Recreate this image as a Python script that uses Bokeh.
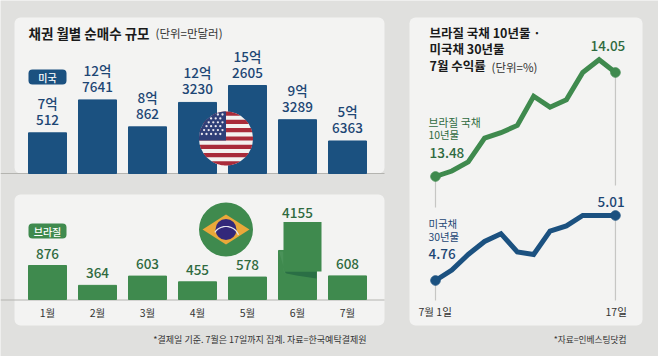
import numpy as np
from bokeh.plotting import figure
from bokeh.models import Range1d, BoxAnnotation
from bokeh.core.properties import value
from bokeh.embed import file_html
from bokeh.resources import INLINE

months = ["1월", "2월", "3월", "4월", "5월", "6월", "7월"]
us_values = [70512, 127641, 80862, 123230, 152605, 93289, 56363]
us_top = ["7억", "12억", "8억", "12억", "15억", "9억", "5억"]
us_bottom = ["512", "7641", "862", "3230", "2605", "3289", "6363"]
br_values = [876, 364, 603, 455, 578, 1263, 608]
br_labels = ["876", "364", "603", "455", "578", "4155", "608"]
br_yield = [13.48, 13.51, 13.56, 13.69, 13.72, 13.76, 13.92, 13.86, 13.90, 14.05, 14.12, 14.05]
us_yield = [4.76, 4.80, 4.86, 4.91, 4.94, 4.87, 4.86, 4.95, 4.97, 5.01, 5.01, 5.01]

BG = "#e0e0de"; PANEL = "#f3f3f2"; NAVY = "#1b5180"; NAVYT = "#1d4674"
GREEN = "#3f8a4e"; GREENT = "#2f6a40"; INK = "#1a1a1a"; RULE = "#b4b4b0"
F = "Noto Sans CJK KR"
FM = "Noto Sans CJK KR Medium"
W, H = 658, 356

p = figure(width=W, height=H, output_backend="svg", toolbar_location=None,
           x_range=Range1d(0, W), y_range=Range1d(H, 0),
           min_border=0, background_fill_color=BG, border_fill_color=BG,
           outline_line_color=None)
p.xaxis.visible = False
p.yaxis.visible = False
p.xgrid.visible = False
p.ygrid.visible = False

def scale(name, base_px, per_unit, base_val=0.0):
    p.extra_y_ranges[name] = Range1d(base_val - (H - base_px) / per_unit,
                                     base_val + base_px / per_unit)

scale("us", 173, 88 / 152605)
scale("br", 299, 34 / 876)
scale("by", 176, 104 / 0.57, 13.48)
scale("uy", 280, 65 / 0.25, 4.76)
p.extra_x_ranges["month"] = Range1d(-47 / 50, (W - 47) / 50)
p.extra_x_ranges["day"] = Range1d(-435 / 16.36, (W - 435) / 16.36)

for l, r, t, b, radius in [(14, 384, 17, 173, 6), (14, 384, 194, 325, 6), (409, 642, 17, 325, 6)]:
    p.add_layout(BoxAnnotation(left=l, right=r, top=t, bottom=b, fill_color=PANEL, fill_alpha=1,
                               line_color=None, border_radius=radius, level="underlay"))

xs = np.arange(7)

p.line([0, 384], [173, 173], line_color=RULE, line_width=1)
p.line([0, 384], [299.5, 299.5], line_color=RULE, line_width=1)

p.vbar(x=xs, top=us_values, bottom=0, width=38 / 50, color=NAVY, x_range_name="month", y_range_name="us")
p.vbar(x=xs, top=br_values, bottom=0, width=38 / 50, color=GREEN, x_range_name="month", y_range_name="br")

p.patch([283, 316, 316, 296, 286], [271, 271, 278, 275, 273], color="#2a6f45", line_color=None)
p.patch([278.5, 283, 283, 285], [251, 251, 271, 273], color="#4a9259", line_color=None)
p.quad(left=[283], right=[321], top=[221.5], bottom=[271], color=GREEN, line_color=None)

def text(x, y, t, size, color, font=F, bold=False, align="center", **kw):
    p.text(x=x, y=y, text=t, text_font=value(font), text_font_size=f"{size}px",
           text_color=color, text_align=align, text_baseline="middle",
           text_font_style="bold" if bold else "normal", **kw)

text(xs, np.array(us_values), us_bottom, 13.5, NAVYT, FM, y_offset=-13,
     x_range_name="month", y_range_name="us")
text(xs, np.array(us_values), us_top, 13.5, NAVYT, FM, y_offset=-30,
     x_range_name="month", y_range_name="us")
br_tops = list(br_values)
br_tops[5] = 1263 + 25.5 / (34 / 876)
text(xs, br_tops, br_labels, 13.5, GREENT, FM, y_offset=-12,
     x_range_name="month", y_range_name="br")
text(xs, [311.5] * 7, months, 10.5, "#333333", x_range_name="month")

for top, fill, lab in [(69, NAVY, "미국"), (223, GREEN, "브라질")]:
    p.add_layout(BoxAnnotation(left=28, right=66, top=top, bottom=top + 15, fill_color=fill, fill_alpha=1,
                               line_color=None, border_radius=4, level="underlay"))
    text([47], [top + 7.5], [lab], 10, "#ffffff", FM)

text([28], [32], ["채권 월별 순매수 규모"], 13.5, INK, bold=True, align="left")
text([155], [32], ["(단위=만달러)"], 11.5, "#333333", align="left")
text([429], [32], ["브라질 국채 10년물 ·"], 12.5, INK, bold=True, align="left")
text([429], [48], ["미국채 30년물"], 12.5, INK, bold=True, align="left")
text([429], [65], ["7월 수익률"], 12.5, INK, bold=True, align="left")
text([491], [66], ["(단위=%)"], 11.5, "#333333", align="left")

cx, cy, R = 225.5, 138, 27
def chord(y0, y1):
    a0 = np.arcsin(np.clip((y0 - cy) / R, -1, 1))
    a1 = np.arcsin(np.clip((y1 - cy) / R, -1, 1))
    a = np.linspace(a0, a1, 12)
    return (list(cx + R * np.cos(a)) + list(cx - R * np.cos(a[::-1])),
            list(cy + R * np.sin(a)) + list(cy + R * np.sin(a[::-1])))

p.scatter([cx], [cy], size=2 * R, color="#f4f2f0", line_color=None)
h = 2 * R / 13
for i in range(0, 13, 2):
    px, py = chord(cy - R + i * h, cy - R + (i + 1) * h)
    p.patch(px, py, color="#a92b3a", line_color=None)
a = np.linspace(np.arcsin(-1), np.arcsin((7 * h - R) / R), 20)
cxs = list(cx - R * np.cos(a)) + [cx, cx]
cys = list(cy + R * np.sin(a)) + [cy - R + 7 * h, cy - R]
p.patch(cxs, cys, color="#2f3f78", line_color=None)
sx, sy = [], []
for r in range(6):
    for c in range(6):
        x_ = cx - 3.5 - c * 4.6 - (r % 2) * 2.2
        y_ = cy - R + 3 + r * 3.9
        if (x_ - cx) ** 2 + (y_ - cy) ** 2 < (R - 1.5) ** 2:
            sx.append(x_); sy.append(y_)
p.scatter(sx, sy, size=2.3, color="#e9e7ee", line_color=None)

bx, by = 225.5, 229
p.scatter([bx], [by], size=54, color=GREEN, line_color=None)
p.patch([bx - 23.5, bx, bx + 23.5, bx], [by, by - 15, by, by + 15], color="#eaa83a", line_color=None)
p.scatter([bx], [by], size=21, color="#33287a", line_color=None)
t = np.linspace(-2.6, -0.3, 20)
p.line(bx + 13 * np.cos(t), by + 9 + 12 * np.sin(t), line_color="#e6e6ee", line_width=1.2)

days = np.arange(12)
for d, top, bot in [(0, 176, 207), (0, 280, 300), (11, 72, 185), (11, 215, 300)]:
    p.line([d, d], [top, bot], line_color="#c6c6c4", line_width=1.2, x_range_name="day")
p.line(days, br_yield, line_color=GREEN, line_width=5, line_join="miter",
       x_range_name="day", y_range_name="by")
p.scatter([days[0], days[-1]], [br_yield[0], br_yield[-1]], size=9.5, color=GREEN,
          x_range_name="day", y_range_name="by")
p.line(days, us_yield, line_color=NAVY, line_width=5, line_join="miter",
       x_range_name="day", y_range_name="uy")
p.scatter([days[0], days[-1]], [us_yield[0], us_yield[-1]], size=9.5, color=NAVY,
          x_range_name="day", y_range_name="uy")

text([428], [121], ["브라질 국채"], 10.8, GREENT, align="left")
text([428], [134], ["10년물"], 10.4, GREENT, align="left")
text([429], [152], ["13.48"], 13.5, GREENT, FM, align="left")
text([590], [45], ["14.05"], 13.5, GREENT, FM, align="left")
text([428], [223], ["미국채"], 10.4, NAVYT, align="left")
text([428], [236], ["30년물"], 10.4, NAVYT, align="left")
text([428], [253], ["4.76"], 13.5, NAVYT, FM, align="left")
text([597], [201], ["5.01"], 13.5, NAVYT, FM, align="left")
text([418], [311], ["7월 1일"], 10.5, "#333333", align="left")
text([605], [311], ["17일"], 10.5, "#333333", align="left")

text([366], [339], ["*결제일 기준. 7월은 17일까지 집계. 자료=한국예탁결제원"], 9, "#333333", align="right")
text([626], [339], ["*자료=인베스팅닷컴"], 8.7, "#333333", align="right")

open("out.html", "w").write(file_html(p, INLINE))
